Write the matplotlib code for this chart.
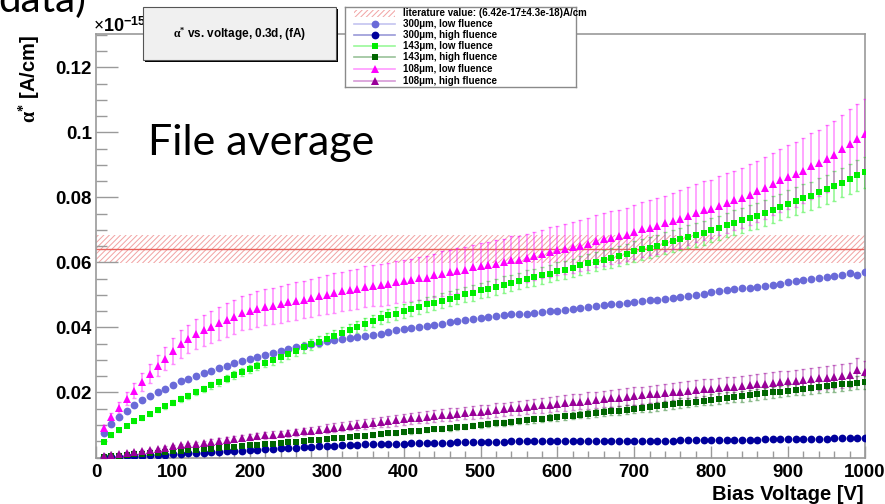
import numpy as np
import matplotlib
matplotlib.use('Agg')
import matplotlib.pyplot as plt
from matplotlib.patches import Rectangle
from matplotlib.ticker import FixedLocator, MultipleLocator

W, H = 885, 504
plt.rcParams['font.family'] = ['Liberation Sans', 'DejaVu Sans']
plt.rcParams['font.weight'] = 'bold'
plt.rcParams['mathtext.fontset'] = 'custom'
plt.rcParams['mathtext.rm'] = 'Liberation Serif'
plt.rcParams['mathtext.bf'] = 'Liberation Sans:bold'
plt.rcParams['mathtext.it'] = 'Liberation Serif:italic'
plt.rcParams['hatch.linewidth'] = 0.7

# ---------------- data (alpha* in units of 1e-18 A/cm) ----------------
voltage = np.arange(10, 1001, 10)

lo300 = [7.6, 10.2, 12.6, 14.3, 16.0, 17.6, 18.9, 20.1, 21.1, 22.4,
         23.4, 24.3, 25.1, 25.9, 26.7, 27.5, 28.3, 29.0, 29.7, 30.4,
         31.0, 31.6, 32.2, 32.8, 33.3, 33.9, 34.4, 34.9, 35.3, 35.7,
         36.0, 36.4, 36.7, 37.0, 37.3, 37.6, 38.0, 38.6, 39.1, 39.4,
         39.9, 40.2, 40.6, 40.9, 41.2, 41.6, 41.9, 42.3, 42.5, 42.8,
         43.2, 43.5, 43.7, 44.0, 44.2, 44.3, 44.5, 44.7, 45.0, 45.2,
         45.5, 45.8, 46.1, 46.4, 46.6, 46.8, 47.1, 47.3, 47.6, 47.9,
         48.1, 48.4, 48.6, 48.8, 49.0, 49.3, 49.6, 50.0, 50.4, 50.8,
         51.1, 51.4, 51.7, 52.0, 52.3, 52.6, 52.9, 53.2, 53.5, 53.9,
         54.2, 54.5, 54.9, 55.2, 55.5, 55.9, 56.2, 56.8, 56.2, 57.0]

hi300 = [0.1, 0.2, 0.3, 0.4, 0.5, 0.6, 0.7, 0.8, 0.9, 1.1,
         1.2, 1.3, 1.4, 1.5, 1.6, 1.7, 1.9, 2.0, 2.1, 2.3,
         2.4, 2.5, 2.6, 2.8, 2.9, 3.0, 3.1, 3.2, 3.4, 3.5,
         3.6, 3.7, 3.8, 3.9, 4.0, 4.0, 4.1, 4.2, 4.2, 4.3,
         4.4, 4.4, 4.5, 4.5, 4.6, 4.6, 4.7, 4.7, 4.8, 4.9,
         4.9, 4.9, 4.9, 5.0, 5.0, 5.0, 5.0, 5.0, 5.0, 5.0,
         5.0, 5.0, 5.0, 5.1, 5.1, 5.1, 5.1, 5.1, 5.1, 5.1,
         5.2, 5.2, 5.2, 5.2, 5.2, 5.3, 5.3, 5.3, 5.3, 5.3,
         5.4, 5.4, 5.4, 5.5, 5.5, 5.5, 5.6, 5.6, 5.6, 5.7,
         5.7, 5.7, 5.8, 5.8, 5.8, 5.9, 5.9, 5.9, 6.0, 6.0]

lo143 = [4.7, 6.8, 8.4, 9.8, 11.2, 12.2, 13.4, 14.6, 15.8, 16.8,
         18.0, 18.9, 20.1, 21.1, 22.2, 23.2, 24.3, 25.4, 26.3, 27.2,
         28.2, 29.1, 30.0, 31.0, 31.9, 32.8, 33.9, 34.8, 35.6, 36.5,
         37.4, 38.3, 39.2, 40.1, 41.0, 41.9, 43.0, 43.7, 44.3, 45.0,
         45.7, 46.4, 47.1, 47.6, 48.3, 48.9, 49.4, 50.2, 50.7, 51.4,
         51.9, 52.5, 53.2, 53.8, 54.3, 55.0, 55.5, 56.0, 56.6, 57.3,
         57.8, 58.4, 59.1, 59.7, 60.3, 60.9, 61.4, 62.0, 62.6, 63.5,
         64.0, 64.6, 65.2, 65.9, 66.6, 67.2, 67.9, 68.5, 69.1, 69.9,
         70.7, 71.5, 72.2, 73.0, 73.8, 74.3, 75.3, 76.3, 77.1, 78.1,
         78.9, 79.7, 80.6, 81.6, 82.5, 83.5, 84.5, 85.7, 86.8, 87.8]
lo143_err = [0.3, 0.4, 0.5, 0.5, 0.6, 0.6, 0.7, 0.7, 0.8, 0.8,
             0.9, 0.9, 1.0, 1.0, 1.1, 1.1, 1.2, 1.2, 1.3, 1.3,
             1.3, 1.4, 1.4, 1.5, 1.5, 1.5, 1.6, 1.6, 1.7, 1.7,
             1.7, 1.8, 1.8, 1.9, 1.9, 1.9, 2.0, 2.0, 2.0, 2.1,
             2.1, 2.1, 2.2, 2.2, 2.2, 2.3, 2.3, 2.3, 2.4, 2.4,
             2.4, 2.5, 2.5, 2.5, 2.6, 2.6, 2.6, 2.7, 2.7, 2.7,
             2.8, 2.8, 2.9, 2.9, 3.0, 3.0, 3.0, 3.1, 3.1, 3.2,
             3.2, 3.3, 3.3, 3.4, 3.4, 3.5, 3.5, 3.6, 3.6, 3.7,
             3.7, 3.8, 3.8, 3.9, 3.9, 4.0, 4.0, 4.1, 4.1, 4.2,
             4.2, 4.3, 4.3, 4.4, 4.4, 4.5, 4.5, 4.6, 4.7, 4.8]

hi143 = [0.2, 0.4, 0.6, 0.8, 1.0, 1.2, 1.3, 1.5, 1.7, 1.9,
         2.1, 2.2, 2.4, 2.6, 2.7, 2.9, 3.1, 3.3, 3.5, 3.7,
         3.9, 4.1, 4.3, 4.5, 4.7, 4.9, 5.1, 5.3, 5.5, 5.7,
         5.9, 6.1, 6.3, 6.5, 6.7, 6.9, 7.1, 7.4, 7.6, 7.8,
         8.0, 8.2, 8.4, 8.7, 8.9, 9.1, 9.3, 9.5, 9.8, 10.0,
         10.2, 10.5, 10.7, 10.9, 11.2, 11.4, 11.7, 11.9, 12.2, 12.4,
         12.7, 12.9, 13.2, 13.4, 13.7, 13.9, 14.2, 14.4, 14.7, 15.0,
         15.3, 15.5, 15.8, 16.1, 16.4, 16.7, 16.9, 17.2, 17.5, 17.8,
         18.1, 18.4, 18.6, 18.9, 19.2, 19.5, 19.8, 20.0, 20.3, 20.6,
         20.9, 21.2, 21.4, 21.7, 22.0, 22.2, 22.5, 22.7, 23.0, 23.2]
hi143_err = [0.1, 0.1, 0.1, 0.1, 0.1, 0.1, 0.1, 0.2, 0.2, 0.2,
             0.2, 0.2, 0.2, 0.2, 0.3, 0.3, 0.3, 0.3, 0.3, 0.3,
             0.3, 0.4, 0.4, 0.4, 0.4, 0.4, 0.4, 0.5, 0.5, 0.5,
             0.5, 0.5, 0.5, 0.6, 0.6, 0.6, 0.6, 0.6, 0.7, 0.7,
             0.7, 0.7, 0.7, 0.7, 0.8, 0.8, 0.8, 0.8, 0.8, 0.9,
             0.9, 0.9, 0.9, 1.0, 1.0, 1.0, 1.0, 1.0, 1.1, 1.1,
             1.1, 1.1, 1.2, 1.2, 1.2, 1.2, 1.2, 1.3, 1.3, 1.3,
             1.3, 1.4, 1.4, 1.4, 1.4, 1.5, 1.5, 1.5, 1.5, 1.6,
             1.6, 1.6, 1.6, 1.7, 1.7, 1.7, 1.7, 1.8, 1.8, 1.8,
             1.8, 1.9, 1.9, 1.9, 1.9, 2.0, 2.0, 2.0, 2.0, 2.0]

lo108 = [9.1, 12.5, 15.3, 18.0, 20.6, 23.2, 25.8, 28.3, 30.4, 32.8,
         34.9, 36.5, 38.0, 39.1, 40.2, 41.3, 42.3, 43.3, 44.4, 45.0,
         45.7, 46.3, 46.6, 47.1, 47.7, 48.1, 48.6, 49.1, 49.6, 50.1,
         50.6, 51.1, 51.6, 51.9, 52.5, 52.9, 53.1, 53.4, 54.1, 54.3,
         54.6, 55.1, 55.3, 56.0, 56.6, 57.0, 57.5, 57.8, 58.5, 58.9,
         59.1, 59.6, 60.1, 60.7, 60.9, 61.4, 61.9, 62.6, 63.2, 63.7,
         64.2, 64.7, 65.2, 65.7, 66.5, 67.1, 67.6, 68.1, 68.6, 69.3,
         70.2, 70.7, 71.2, 72.0, 72.7, 73.4, 74.3, 75.1, 76.0, 76.5,
         77.5, 78.4, 79.1, 79.9, 80.9, 81.9, 83.0, 84.2, 85.3, 86.3,
         87.1, 88.3, 89.6, 90.7, 91.9, 93.2, 95.0, 96.6, 98.1, 99.6]
lo108_err = [0.9, 1.3, 1.7, 2.0, 2.4, 2.7, 3.0, 3.3, 3.6, 3.9,
             4.2, 4.4, 4.6, 4.7, 4.9, 5.0, 5.1, 5.2, 5.3, 5.4,
             5.5, 5.5, 5.6, 5.6, 5.7, 5.8, 5.8, 5.9, 5.9, 6.0,
             6.1, 6.1, 6.2, 6.2, 6.3, 6.3, 6.4, 6.4, 6.5, 6.5,
             6.6, 6.6, 6.7, 6.7, 6.8, 6.8, 6.9, 6.9, 7.0, 7.1,
             7.1, 7.2, 7.2, 7.3, 7.3, 7.4, 7.4, 7.5, 7.6, 7.6,
             7.7, 7.8, 7.8, 7.9, 8.0, 8.1, 8.1, 8.2, 8.2, 8.3,
             8.4, 8.5, 8.5, 8.6, 8.7, 8.8, 8.8, 8.9, 9.0, 9.0,
             9.1, 9.2, 9.2, 9.3, 9.4, 9.4, 9.5, 9.6, 9.7, 9.8,
             9.9, 10.0, 10.1, 10.2, 10.3, 10.4, 10.5, 10.6, 10.7, 10.8]

hi108 = [0.5, 0.8, 1.1, 1.4, 1.7, 2.0, 2.3, 2.6, 3.0, 3.4,
         3.7, 4.0, 4.3, 4.6, 4.9, 5.2, 5.5, 5.8, 6.0, 6.3,
         6.5, 6.8, 7.0, 7.3, 7.5, 7.8, 8.0, 8.3, 8.6, 8.9,
         9.2, 9.5, 9.8, 10.0, 10.3, 10.6, 10.9, 11.1, 11.4, 11.7,
         12.0, 12.2, 12.5, 12.7, 13.0, 13.2, 13.4, 13.6, 13.9, 14.1,
         14.3, 14.6, 14.8, 15.1, 15.3, 15.5, 15.8, 16.0, 16.3, 16.5,
         16.7, 17.0, 17.2, 17.5, 17.7, 17.9, 18.2, 18.4, 18.7, 18.9,
         19.1, 19.4, 19.6, 19.8, 20.1, 20.3, 20.5, 20.8, 21.0, 21.2,
         21.4, 21.6, 21.8, 22.1, 22.3, 22.5, 22.7, 22.9, 23.2, 23.4,
         23.6, 23.9, 24.1, 24.4, 24.6, 24.9, 25.1, 25.4, 27.0, 26.2]
hi108_err = [0.1, 0.2, 0.2, 0.2, 0.3, 0.3, 0.3, 0.4, 0.4, 0.5,
             0.5, 0.6, 0.6, 0.6, 0.7, 0.7, 0.8, 0.8, 0.8, 0.9,
             0.9, 1.0, 1.0, 1.0, 1.1, 1.1, 1.1, 1.2, 1.2, 1.3,
             1.3, 1.3, 1.4, 1.4, 1.5, 1.5, 1.5, 1.6, 1.6, 1.7,
             1.7, 1.7, 1.8, 1.8, 1.8, 1.9, 1.9, 1.9, 2.0, 2.0,
             2.0, 2.1, 2.1, 2.1, 2.2, 2.2, 2.2, 2.3, 2.3, 2.3,
             2.4, 2.4, 2.4, 2.5, 2.5, 2.5, 2.6, 2.6, 2.6, 2.7,
             2.7, 2.7, 2.8, 2.8, 2.8, 2.9, 2.9, 2.9, 3.0, 3.0,
             3.0, 3.1, 3.1, 3.1, 3.2, 3.2, 3.2, 3.3, 3.3, 3.3,
             3.4, 3.4, 3.4, 3.5, 3.5, 3.5, 3.6, 3.6, 3.7, 3.6]

lit_value = 64.2   # (6.42e-17 A/cm)
lit_err = 4.3      # (4.3e-18 A/cm)

labels = ['300\u03bcm, low fluence', '300\u03bcm, high fluence',
          '143\u03bcm, low fluence', '143\u03bcm, high fluence',
          '108\u03bcm, low fluence', '108\u03bcm, high fluence']
lit_label = 'literature value: (6.42e-17\u00b14.3e-18)A/cm'
ytick_vals = [0.02, 0.04, 0.06, 0.08, 0.1, 0.12]
ytick_labels = ['0.02', '0.04', '0.06', '0.08', '0.1', '0.12']
xtick_vals = [0, 100, 200, 300, 400, 500, 600, 700, 800, 900, 1000]

SCALE = 1e-3  # 1e-18 -> axis units of 1e-15

# ---------------- figure ----------------
fig = plt.figure(figsize=(W / 100, H / 100), dpi=100)


def fx(px):
    return px / W


def fy(py):
    return 1 - py / H


L, R, T, B = 96, 865, 34, 457.5
ax = fig.add_axes([fx(L), fy(B), (R - L) / W, (B - T) / H])
ax.set_xlim(0, 1000)
ax.set_ylim(0, 0.1303)

frame_c = '#9a9a9a'
for s in ax.spines.values():
    s.set_color(frame_c)
    s.set_linewidth(1.2)

# literature band
ax.axhspan((lit_value - lit_err) * SCALE, (lit_value + lit_err) * SCALE,
           facecolor='none', edgecolor='#f2a2a2', hatch='//////', linewidth=0, zorder=1)
ax.axhline(lit_value * SCALE, color='#e8625c', lw=1.0, zorder=2)

series = [
    (lo300, None, 'o', '#6a6ad8', 5.6),
    (hi300, None, 'o', '#00009c', 5.6),
    (lo143, lo143_err, 's', '#00ee00', 5.0),
    (hi143, hi143_err, 's', '#006600', 5.0),
    (lo108, lo108_err, '^', '#ff00ff', 5.6),
    (hi108, hi108_err, '^', '#990099', 5.6),
]
for vals, errs, m, c, ms in series:
    y = np.array(vals) * SCALE
    if errs is not None:
        ax.errorbar(voltage, y, yerr=np.array(errs) * SCALE, fmt='none', ecolor=c,
                    alpha=0.45, elinewidth=1.1, capsize=1.5, capthick=1.0, zorder=3)
    ax.plot(voltage, y, linestyle='none', marker=m, ms=ms, color=c, mew=0, zorder=4)

ax.xaxis.set_major_locator(FixedLocator(xtick_vals))
ax.xaxis.set_minor_locator(MultipleLocator(20))
ax.yaxis.set_major_locator(FixedLocator(ytick_vals))
ax.set_yticklabels(ytick_labels)
ax.yaxis.set_minor_locator(MultipleLocator(0.005))
ax.tick_params(axis='both', which='both', direction='in', color=frame_c, width=1.0,
               labelsize=13.5)
ax.tick_params(axis='x', which='major', length=8.6, pad=5)
ax.tick_params(axis='x', which='minor', length=5)
ax.tick_params(axis='y', which='major', length=15.8, pad=3)
ax.tick_params(axis='y', which='minor', length=7.9)

# axis labels / multiplier
fig.text(fx(864), fy(500), 'Bias Voltage [V]', ha='right', va='baseline',
         fontsize=14.5, fontweight='bold')
fig.text(fx(29), fy(35), r'$\mathrm{\alpha}^{*}$ [A/cm]', rotation=90, ha='center',
         va='top', fontsize=14.5, fontweight='bold')
fig.text(fx(93), fy(32), r'$\times\mathbf{10}^{\mathbf{-15}}$', ha='left', va='baseline',
         fontsize=13)

# title box with shadow
fig.patches.append(Rectangle((fx(145), fy(62)), (336 - 143) / W, (60 - 7) / H,
                             transform=fig.transFigure, facecolor='black',
                             edgecolor='none', zorder=5))
fig.patches.append(Rectangle((fx(143), fy(60)), (336 - 143) / W, (60 - 7) / H,
                             transform=fig.transFigure, facecolor='#f0f0f0',
                             edgecolor='#555555', lw=0.8, zorder=6))
fig.text(fx(239.5), fy(34), r'$\mathrm{\alpha}^{*}$ vs. voltage, 0.3d, (fA)', ha='center',
         va='center', fontsize=8.5, fontweight='bold', zorder=7)

# legend
lg = fig.add_axes([fx(345), fy(87), (576 - 345) / W, (87 - 7) / H])
lg.set_xlim(0, 231)
lg.set_ylim(80, 0)
lg.set_xticks([])
lg.set_yticks([])
for s in lg.spines.values():
    s.set_color('#8a8a8a')
    s.set_linewidth(1.0)
rows = [6.3, 17.0, 28.0, 39.0, 50.3, 62.3, 73.7]
lg.add_patch(Rectangle((9, rows[0] - 3.5), 41, 7, facecolor='none', edgecolor='#f2a2a2',
                       hatch='//////', lw=0))
lg.text(58, rows[0], lit_label, va='center', ha='left', fontsize=7, fontweight='bold')
for (vals, errs, m, c, ms), lab, yy in zip(series, labels, rows[1:]):
    lg.plot([9, 50], [yy, yy], color=c, alpha=0.4, lw=1.2)
    lg.plot([29.5], [yy], marker=m, ms=ms, color=c, mew=0, linestyle='none')
    lg.text(58, yy, lab, va='center', ha='left', fontsize=7, fontweight='bold')

# slide overlay texts
fig.text(fx(148), fy(155), 'File average', ha='left', va='baseline',
         fontsize=31, fontweight='normal', family=['Lato', 'DejaVu Sans'])
fig.text(fx(-2), fy(12), 'data)', ha='left', va='baseline',
         fontsize=29, fontweight='normal', family=['Lato', 'DejaVu Sans'])

fig.savefig('out.png', dpi=100)
